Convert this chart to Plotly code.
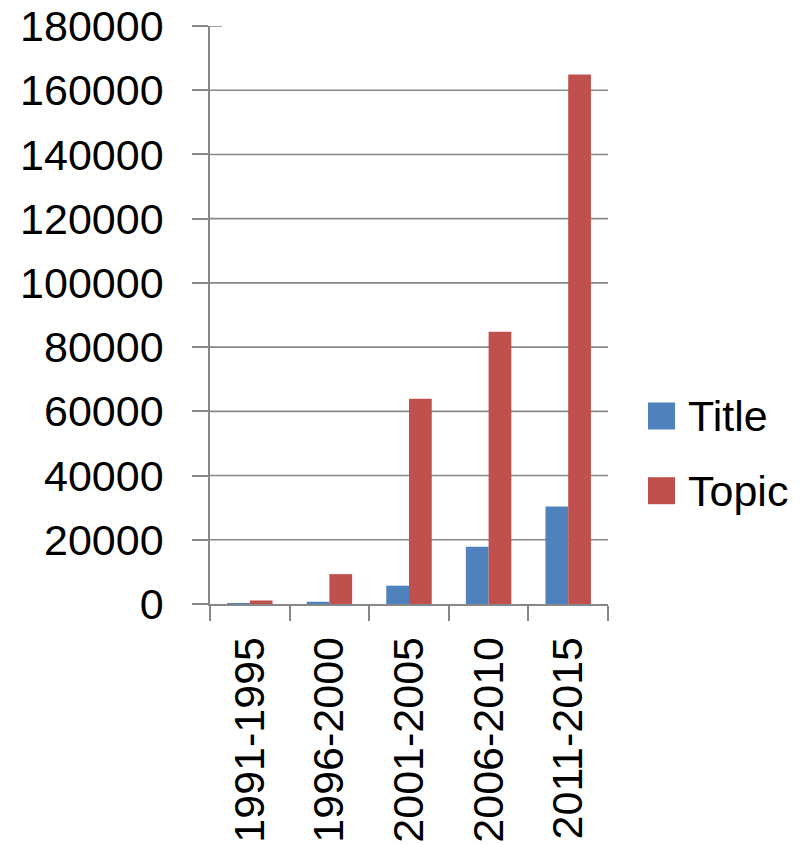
import plotly.graph_objects as go

# Publication counts per five-year period
periods = ["1991-1995", "1996-2000", "2001-2005", "2006-2010", "2011-2015"]
series_names = ["Title", "Topic"]
title_counts = [250, 700, 5700, 17800, 30400]
topic_counts = [1100, 9300, 63900, 84800, 164900]
series_values = [title_counts, topic_counts]
series_colors = ["#4F81BD", "#C0504D"]

y_ticks = list(range(0, 180001, 20000))

AXIS_GRAY = "#878787"
FONT = dict(family="Liberation Sans, Arial, sans-serif", size=43, color="black")

fig = go.Figure()
for name, vals, col in zip(series_names, series_values, series_colors):
    fig.add_trace(go.Bar(
        x=periods, y=vals, name=name,
        marker=dict(color=col, line=dict(width=0)),
        showlegend=False,
    ))

shapes = []
# horizontal gridlines (none at the axis ends)
for v in y_ticks[1:-1]:
    shapes.append(dict(type="line", xref="paper", yref="y", x0=0, x1=1, y0=v, y1=v,
                       line=dict(color=AXIS_GRAY, width=1.6), layer="below"))
# inner half of the cross tick at the top of the value axis
shapes.append(dict(type="line", xref="paper", yref="y", xsizemode="pixel", xanchor=0,
                   x0=0, x1=12, y0=y_ticks[-1], y1=y_ticks[-1],
                   line=dict(color=AXIS_GRAY, width=1.6)))

# legend: large colour swatches with labels to the right of the plot
legend_y = [0.3253, 0.196]
annotations = []
for name, col, ly in zip(series_names, series_colors, legend_y):
    shapes.append(dict(type="rect", xref="paper", yref="paper",
                       xsizemode="pixel", ysizemode="pixel",
                       xanchor=1.0, yanchor=ly, x0=40, x1=67, y0=-13.5, y1=13.5,
                       fillcolor=col, line=dict(width=0)))
    annotations.append(dict(xref="paper", yref="paper", x=1.0, y=ly, xshift=78,
                            text=name, showarrow=False, xanchor="left", yanchor="middle",
                            font=FONT))

fig.update_layout(
    width=810, height=845,
    margin=dict(l=210, r=202, t=26, b=241, autoexpand=False),
    paper_bgcolor="white", plot_bgcolor="white",
    barmode="group", bargap=0.4286, bargroupgap=0,
    font=FONT,
    shapes=shapes,
    annotations=annotations,
    xaxis=dict(
        type="category", tickson="boundaries",
        ticks="outside", ticklen=15, tickwidth=1.6, tickcolor=AXIS_GRAY,
        showline=True, linecolor=AXIS_GRAY, linewidth=1.6,
        showgrid=False, tickangle=-90, tickfont=FONT,
        ticklabelstandoff=14, automargin=False,
    ),
    yaxis=dict(
        range=[0, 180000], tickmode="array", tickvals=y_ticks,
        ticktext=[str(v) for v in y_ticks],
        ticks="outside", ticklen=16, tickwidth=1.6, tickcolor=AXIS_GRAY,
        showline=True, linecolor=AXIS_GRAY, linewidth=1.6,
        showgrid=False, zeroline=False, tickfont=FONT,
        ticklabelstandoff=20, automargin=False,
    ),
)

fig.write_html("out.html")
